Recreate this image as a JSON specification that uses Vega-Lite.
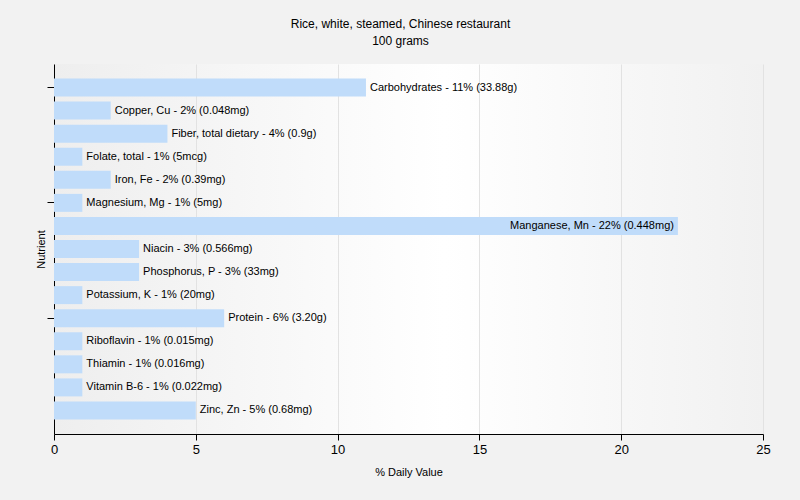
{
  "$schema": "https://vega.github.io/schema/vega-lite/v6.json",
  "width": 709,
  "height": 370,
  "autosize": "none",
  "padding": {"left": 54, "top": 64, "right": 37, "bottom": 66},
  "background": "#f2f2f2",
  "title": {
    "text": "Rice, white, steamed, Chinese restaurant",
    "subtitle": "100 grams",
    "font": "Liberation Sans",
    "fontSize": 12,
    "fontWeight": "normal",
    "subtitleFont": "Liberation Sans",
    "subtitleFontSize": 12,
    "subtitlePadding": 5,
    "color": "#000000",
    "subtitleColor": "#000000",
    "anchor": "middle",
    "dx": -8,
    "offset": 16
  },
  "config": {
    "view": {"stroke": null, "fill": {"gradient": "linear", "x1": 0, "x2": 1, "y1": 0, "y2": 0, "stops": [{"offset": 0, "color": "#eeeeee"}, {"offset": 0.55, "color": "#ffffff"}, {"offset": 1, "color": "#f1f1f1"}]}},
    "font": "Liberation Sans"
  },
  "data": {
    "values": [
      {"nutrient": "Carbohydrates", "value": 11, "label": "Carbohydrates - 11% (33.88g)"},
      {"nutrient": "Copper, Cu", "value": 2, "label": "Copper, Cu - 2% (0.048mg)"},
      {"nutrient": "Fiber, total dietary", "value": 4, "label": "Fiber, total dietary - 4% (0.9g)"},
      {"nutrient": "Folate, total", "value": 1, "label": "Folate, total - 1% (5mcg)"},
      {"nutrient": "Iron, Fe", "value": 2, "label": "Iron, Fe - 2% (0.39mg)"},
      {"nutrient": "Magnesium, Mg", "value": 1, "label": "Magnesium, Mg - 1% (5mg)"},
      {"nutrient": "Manganese, Mn", "value": 22, "label": "Manganese, Mn - 22% (0.448mg)"},
      {"nutrient": "Niacin", "value": 3, "label": "Niacin - 3% (0.566mg)"},
      {"nutrient": "Phosphorus, P", "value": 3, "label": "Phosphorus, P - 3% (33mg)"},
      {"nutrient": "Potassium, K", "value": 1, "label": "Potassium, K - 1% (20mg)"},
      {"nutrient": "Protein", "value": 6, "label": "Protein - 6% (3.20g)"},
      {"nutrient": "Riboflavin", "value": 1, "label": "Riboflavin - 1% (0.015mg)"},
      {"nutrient": "Thiamin", "value": 1, "label": "Thiamin - 1% (0.016mg)"},
      {"nutrient": "Vitamin B-6", "value": 1, "label": "Vitamin B-6 - 1% (0.022mg)"},
      {"nutrient": "Zinc, Zn", "value": 5, "label": "Zinc, Zn - 5% (0.68mg)"}
    ]
  },
  "encoding": {
    "y": {
      "field": "nutrient",
      "type": "nominal",
      "sort": null,
      "scale": {"paddingInner": 0.22, "paddingOuter": 0.63},
      "axis": {
        "title": "Nutrient",
        "titleFontSize": 11,
        "titleFontWeight": "normal",
        "titleColor": "#000000",
        "labels": false,
        "values": ["Carbohydrates", "Magnesium, Mg", "Protein"],
        "domainColor": "#000000",
        "tickColor": "#000000",
        "tickSize": 7,
        "titlePadding": 0,
        "grid": false
      }
    },
    "x": {
      "field": "value",
      "type": "quantitative",
      "scale": {"domain": [0, 25], "nice": false},
      "axis": {
        "title": "% Daily Value",
        "titleFontSize": 11,
        "titleFontWeight": "normal",
        "titleColor": "#000000",
        "titlePadding": 10,
        "values": [0, 5, 10, 15, 20, 25],
        "labelFontSize": 13,
        "labelColor": "#000000",
        "labelFlush": false,
        "domainColor": "#000000",
        "tickColor": "#000000",
        "tickSize": 6,
        "gridColor": "#e2e2e2",
        "labelPadding": 3
      }
    }
  },
  "layer": [
    {"mark": {"type": "bar", "color": "#c0dcfa"}},
    {
      "transform": [{"filter": "datum.value < 15"}],
      "mark": {"type": "text", "align": "left", "dx": 4, "fontSize": 11, "color": "#000000"},
      "encoding": {"text": {"field": "label"}}
    },
    {
      "transform": [{"filter": "datum.value >= 15"}],
      "mark": {"type": "text", "align": "right", "dx": -4, "fontSize": 11, "color": "#000000"},
      "encoding": {"text": {"field": "label"}}
    }
  ]
}
